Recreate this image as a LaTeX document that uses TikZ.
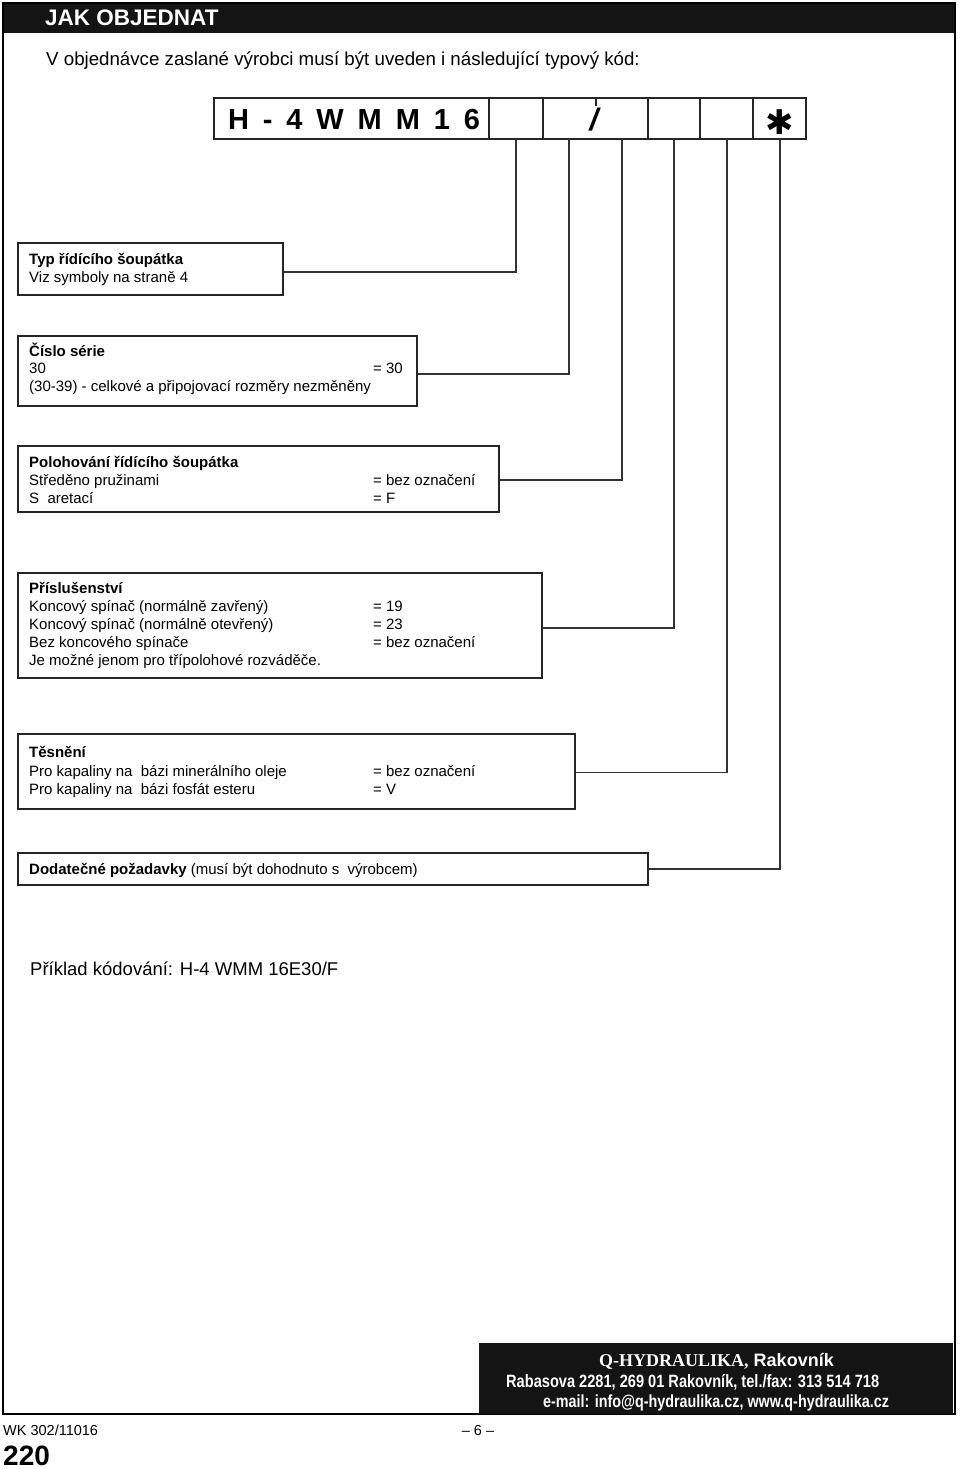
\documentclass[tikz,border=0pt]{standalone}
\usepackage{fontspec}
\setmainfont{Liberation Sans}
\newfontfamily\serifb{Liberation Serif}
\newfontfamily\condb[FakeStretch=0.82]{Liberation Sans}
\newfontfamily\djv{DejaVu Sans}
\newcommand{\fsz}[1]{\fontsize{#1}{#1}\selectfont}
\begin{document}
\begin{tikzpicture}[x=1pt,y=-1pt,
  txt/.style={anchor=base west,inner sep=0pt,font=\fsz{15}},
  hd/.style={txt,font=\fsz{15}\bfseries},
  box/.style={draw=black!85,line width=1.3pt,inner sep=0pt},
  conn/.style={draw=black!80,line width=1.3pt},
  ftr/.style={anchor=base west,inner sep=0pt,text=white},
]
\useasboundingbox (0,0) rectangle (960,1469);
% frame and header band
\fill[black!92] (3,3) rectangle (955,33);
\draw[line width=1.6pt] (3,3) rectangle (955,1414);
\node[anchor=base west,inner sep=0pt,text=white,font=\fsz{22.5}\bfseries] (title) at (45,26) {JAK OBJEDNAT};
\node[anchor=base west,inner sep=0pt,font=\fsz{18.7}] (intro) at (46,65.5) {V objednávce zaslané výrobci musí být uveden i následující typový kód:};

% code box
\node[box,line width=1.5pt,minimum width=592pt,minimum height=41pt] (code) at (510,118.5) {};
\foreach \x in {489,543,648,700,753} \draw[black!85,line width=1.3pt] (\x,98) -- (\x,139);
\draw[black!85,line width=1.3pt] (596,98) -- (596,106);
\node[anchor=base,inner sep=0pt,font=\fsz{29}\bfseries,text width=252pt] (codetxt) at (354,129.5) {H\hfill-\hfill4\hfill W\hfill M\hfill M\hfill 1\hfill 6};
\node[anchor=base,inner sep=0pt,font=\fsz{31}\bfseries\itshape] (slash) at (594,131) {/};
\node[inner sep=0pt,font=\fsz{34}\djv\bfseries] (star) at (780,122) {✱};
\coordinate (k2) at (516,139);
\coordinate (k3) at (569,139);
\coordinate (k4) at (622,139);
\coordinate (k5) at (674,139);
\coordinate (k6) at (727,139);
\coordinate (k7) at (780,139);

% box 1
\node[box,minimum width=265pt,minimum height=52pt] (b1) at (150.5,269) {};
\node[hd] (b1a) at (29,264) {Typ řídícího šoupátka};
\node[txt] (b1b) at (29,282) {Viz symboly na straně 4};
% box 2
\node[box,minimum width=399pt,minimum height=70pt] (b2) at (217.5,371) {};
\node[hd] (b2a) at (29,356) {Číslo série};
\node[txt] (b2b) at (29,373) {30};
\node[txt] (b2c) at (373,373) {= 30};
\node[txt] (b2d) at (29,391) {(30-39) - celkové a připojovací rozměry nezměněny};
% box 3
\node[box,minimum width=481pt,minimum height=66pt] (b3) at (258.5,479) {};
\node[hd] (b3a) at (29,467) {Polohování řídícího šoupátka};
\node[txt] (b3b) at (29,485) {Středěno pružinami};
\node[txt] (b3c) at (373,485) {= bez označení};
\node[txt] (b3d) at (29,503) {S~ aretací};
\node[txt] (b3e) at (373,503) {= F};
% box 4
\node[box,minimum width=524pt,minimum height=105pt] (b4) at (280,625.5) {};
\node[hd] (b4a) at (29,593) {Příslušenství};
\node[txt] (b4b) at (29,611) {Koncový spínač (normálně zavřený)};
\node[txt] (b4c) at (373,611) {= 19};
\node[txt] (b4d) at (29,629) {Koncový spínač (normálně otevřený)};
\node[txt] (b4e) at (373,629) {= 23};
\node[txt] (b4f) at (29,647) {Bez koncového spínače};
\node[txt] (b4g) at (373,647) {= bez označení};
\node[txt] (b4h) at (29,665) {Je možné jenom pro třípolohové rozváděče.};
% box 5
\node[box,minimum width=557pt,minimum height=75pt] (b5) at (296.5,771.5) {};
\node[hd] (b5a) at (29,757) {Těsnění};
\node[txt] (b5b) at (29,776) {Pro kapaliny na~ bázi minerálního oleje};
\node[txt] (b5c) at (373,776) {= bez označení};
\node[txt] (b5d) at (29,794) {Pro kapaliny na~ bázi fosfát esteru};
\node[txt] (b5e) at (373,794) {= V};
% box 6
\node[box,minimum width=630pt,minimum height=32pt] (b6) at (333,869) {};
\node[txt] (b6a) at (29,874) {\textbf{Dodatečné požadavky} (musí být dohodnuto s~ výrobcem)};

% connectors
\draw[conn] (k2) |- ([yshift=-3pt]b1.east);
\draw[conn] (k3) |- ([yshift=-3pt]b2.east);
\draw[conn] (k4) |- ([yshift=-1pt]b3.east);
\draw[conn] (k5) |- ([yshift=-2.5pt]b4.east);
\draw[conn] (k6) |- ([yshift=-1pt]b5.east);
\draw[conn] (k7) |- (b6.east);

% example
\node[anchor=base west,inner sep=0pt,font=\fsz{18.5}] (example) at (30,975.5) {Příklad kódování: H-4 WMM 16E30/F};

% footer
\node[fill=black!92,inner sep=0pt,minimum width=474pt,minimum height=71pt] (foot) at (716,1378.5) {};
\node[anchor=base,inner sep=0pt,text=white,font=\fsz{18}] (f1) at (716.5,1366) {{\serifb\bfseries Q-HYDRAULIKA,} \bfseries Rakovník};
\node[ftr,font=\fsz{17.8}\condb\bfseries] (f2) at (506,1387) {Rabasova 2281, 269 01 Rakovník, tel./fax: 313 514 718};
\node[ftr,font=\fsz{17.5}\condb\bfseries] (f3) at (543,1407) {e-mail: info@q-hydraulika.cz, www.q-hydraulika.cz};

\node[anchor=base west,inner sep=0pt,font=\fsz{14.5}] (wk) at (3,1435) {WK 302/11016};
\node[anchor=base,inner sep=0pt,font=\fsz{14.5}] (page) at (478,1435) {-- 6 --};
\node[anchor=base west,inner sep=0pt,font=\fsz{28}\bfseries] (num) at (3,1465) {220};
\end{tikzpicture}
\end{document}
